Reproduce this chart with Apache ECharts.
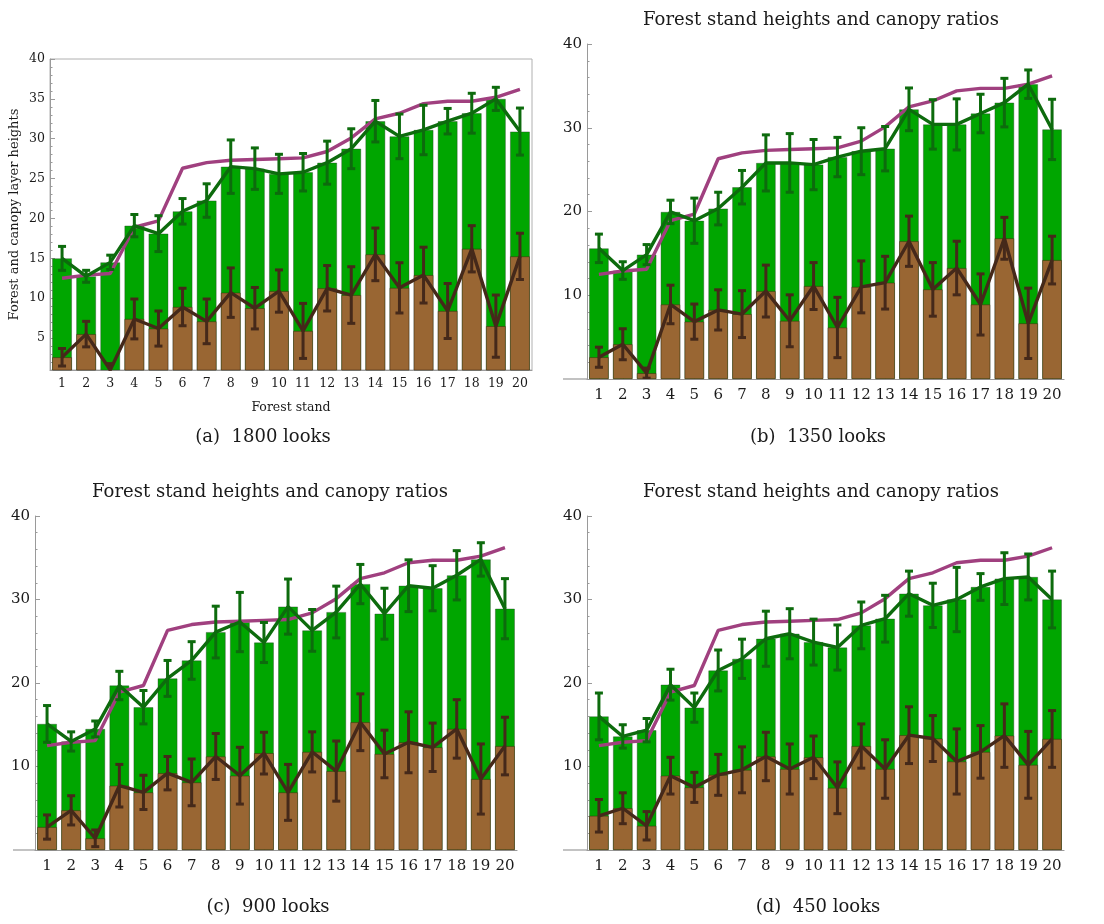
<!DOCTYPE html>
<html><head><meta charset="utf-8">
<script src="https://cdn.jsdelivr.net/npm/echarts@6/dist/echarts.min.js"></script>
<style>html,body{margin:0;padding:0;background:#fff}#c{width:1104px;height:924px}</style>
</head><body><div id="c"></div>
<script>
// ---------- data ----------
const stands = ['1','2','3','4','5','6','7','8','9','10','11','12','13','14','15','16','17','18','19','20'];
const reference = [12.5, 12.9, 13.1, 18.9, 19.7, 26.3, 27.0, 27.3, 27.4, 27.5, 27.6, 28.4, 30.1, 32.5, 33.2, 34.4, 34.7, 34.7, 35.2, 36.2];

const looks1800Height    = [15.0, 12.75, 14.5, 19.1, 18.1, 20.9, 22.25, 26.5, 26.25, 25.6, 25.8, 27.0, 28.75, 32.2, 30.3, 31.1, 32.2, 33.2, 35.0, 30.9];
const looks1800HeightErr = [1.5, 0.75, 0.9, 1.4, 2.25, 1.6, 2.1, 3.35, 2.6, 2.45, 2.35, 2.7, 2.5, 2.6, 2.8, 3.1, 1.6, 2.5, 1.45, 2.95];
const looks1800Base      = [2.6, 5.5, 1.0, 7.4, 6.2, 8.9, 7.1, 10.7, 8.75, 10.9, 5.9, 11.25, 10.4, 15.5, 11.3, 12.9, 8.4, 16.2, 6.5, 15.25];
const looks1800BaseErr   = [1.1, 1.6, 0.8, 2.5, 2.2, 2.35, 2.8, 3.1, 2.6, 2.65, 3.45, 2.85, 3.55, 3.3, 3.15, 3.5, 3.45, 2.9, 3.9, 2.9];

const looks1350Height    = [15.6, 12.95, 14.85, 19.95, 18.9, 20.35, 22.9, 25.8, 25.8, 25.6, 26.5, 27.2, 27.5, 32.2, 30.4, 30.4, 31.7, 33.0, 35.2, 29.8];
const looks1350HeightErr = [1.7, 1.05, 1.2, 1.4, 2.7, 1.95, 2.0, 3.35, 3.5, 3.0, 2.35, 2.8, 2.65, 2.55, 2.95, 3.05, 2.3, 2.9, 1.7, 3.6];
const looks1350Base      = [2.6, 4.15, 0.7, 8.9, 6.85, 8.25, 7.75, 10.5, 6.95, 11.1, 6.15, 11.0, 11.5, 16.45, 10.7, 13.25, 8.9, 16.8, 6.65, 14.2];
const looks1350BaseErr   = [1.2, 1.85, 0.6, 2.3, 2.1, 2.4, 2.8, 3.1, 3.1, 2.8, 3.6, 3.1, 3.15, 3.0, 3.2, 3.2, 3.65, 2.5, 4.2, 2.85];

const looks900Height     = [15.1, 13.0, 14.5, 19.7, 17.1, 20.55, 22.7, 26.1, 27.3, 24.85, 29.15, 26.3, 28.5, 31.85, 28.3, 31.65, 31.35, 32.9, 34.8, 28.9];
const looks900HeightErr  = [2.2, 1.15, 0.95, 1.7, 2.0, 2.15, 2.25, 3.1, 3.55, 2.4, 3.3, 2.5, 3.1, 2.35, 3.05, 3.1, 2.7, 2.95, 2.0, 3.6];
const looks900Base       = [2.75, 4.75, 1.4, 7.7, 6.9, 9.2, 8.1, 11.2, 8.9, 11.6, 6.9, 11.75, 9.45, 15.3, 11.5, 12.9, 12.3, 14.5, 8.5, 12.45];
const looks900BaseErr    = [1.45, 1.75, 1.0, 2.55, 2.05, 2.0, 2.8, 2.75, 3.4, 2.5, 3.35, 2.4, 3.6, 3.4, 2.85, 3.65, 2.9, 3.5, 4.2, 3.45];

const looks450Height     = [16.0, 13.6, 14.35, 19.8, 17.05, 21.5, 22.9, 25.3, 25.9, 24.9, 24.25, 26.9, 27.7, 30.7, 29.3, 30.0, 31.5, 32.5, 32.7, 30.0];
const looks450HeightErr  = [2.8, 1.4, 1.4, 1.85, 1.75, 2.45, 2.35, 3.3, 3.0, 2.75, 2.7, 2.8, 2.8, 2.7, 2.65, 3.85, 1.6, 3.1, 2.75, 3.4];
const looks450Base       = [4.1, 5.0, 2.9, 8.9, 7.5, 9.0, 9.6, 11.2, 9.7, 11.1, 7.45, 12.45, 9.7, 13.75, 13.35, 10.6, 11.75, 13.7, 10.2, 13.3];
const looks450BaseErr    = [1.95, 1.85, 1.7, 2.2, 1.8, 2.45, 2.75, 2.9, 3.0, 2.55, 3.1, 2.65, 3.5, 3.4, 2.75, 3.9, 3.15, 3.8, 4.0, 3.4];

const panelTitle = 'Forest stand heights and canopy ratios';
const captions = ['(a)  1800 looks', '(b)  1350 looks', '(c)  900 looks', '(d)  450 looks'];
const yTicksA = [5, 10, 15, 20, 25, 30, 35, 40];
const yMinorA = [2,3,4,6,7,8,9,11,12,13,14,16,17,18,19,21,22,23,24,26,27,28,29,31,32,33,34,36,37,38,39];

// ---------- styling ----------
const FONT = 'DejaVu Serif';
const GREEN_BAR = '#00a600';
const BROWN_BAR = '#996633';
const GREEN_LINE = '#0d6b0d';
const BROWN_LINE = '#45291a';
const PURPLE = '#a0407f';
const AXIS = '#9a9a9a';
const TEXT = '#1a1a1a';

const panels = [
  {h: looks1800Height, he: looks1800HeightErr, b: looks1800Base, be: looks1800BaseErr,
   grid: {left: 50, top: 59, width: 482, height: 311}, min: 1, small: true,
   title: null, cap: [263, 437], ext: 0},
  {h: looks1350Height, he: looks1350HeightErr, b: looks1350Base, be: looks1350BaseErr,
   grid: {left: 587, top: 44, width: 477, height: 335}, min: 0,
   title: [821, 20], cap: [818, 437], ext: 24},
  {h: looks900Height, he: looks900HeightErr, b: looks900Base, be: looks900BaseErr,
   grid: {left: 35, top: 516, width: 482, height: 334}, min: 0,
   title: [270, 492], cap: [268, 907], ext: 22},
  {h: looks450Height, he: looks450HeightErr, b: looks450Base, be: looks450BaseErr,
   grid: {left: 587, top: 516, width: 477, height: 334}, min: 0,
   title: [821, 492], cap: [818, 907], ext: 24}
];

function errRender(color) {
  return function (params, api) {
    const x = api.value(0);
    const lo = api.coord([x, api.value(1)]);
    const hi = api.coord([x, api.value(2)]);
    const cap = 4;
    const style = {stroke: color, lineWidth: 3};
    return {
      type: 'group',
      children: [
        {type: 'line', shape: {x1: hi[0], y1: hi[1], x2: lo[0], y2: lo[1]}, style: style},
        {type: 'line', shape: {x1: hi[0] - cap, y1: hi[1], x2: hi[0] + cap, y2: hi[1]}, style: style},
        {type: 'line', shape: {x1: lo[0] - cap, y1: lo[1], x2: lo[0] + cap, y2: lo[1]}, style: style}
      ]
    };
  };
}

const grids = [], xAxes = [], yAxes = [], series = [], graphics = [];

panels.forEach(function (p, i) {
  const fs = p.small ? 12.5 : 15;
  grids.push(Object.assign({
    show: !!p.small, borderColor: '#b0b0b0', borderWidth: 1, backgroundColor: 'transparent'
  }, p.grid));
  xAxes.push({
    type: 'category', gridIndex: i, data: stands, boundaryGap: true,
    axisLine: {show: true, lineStyle: {color: AXIS, width: 1.2}},
    axisTick: {show: true, inside: true, alignWithLabel: true, length: 3, lineStyle: {color: AXIS}},
    axisLabel: {fontFamily: FONT, fontSize: fs, color: TEXT, margin: p.small ? 7 : 9, interval: 0},
    splitLine: {show: false},
    name: p.small ? 'Forest stand' : '', nameLocation: 'middle', nameGap: 31,
    nameTextStyle: {fontFamily: FONT, fontSize: 12.5, color: TEXT}
  });
  if (p.small) {
    yAxes.push({
      type: 'value', gridIndex: i, min: p.min, max: 40,
      axisLine: {show: true, lineStyle: {color: AXIS, width: 1}},
      axisTick: {show: true, inside: true, length: 5, lineStyle: {color: AXIS}, customValues: yTicksA},
      axisLabel: {fontFamily: FONT, fontSize: fs, color: TEXT, margin: 5, customValues: yTicksA},
      splitLine: {show: false},
      name: 'Forest and canopy layer heights', nameLocation: 'middle', nameGap: 29, nameRotate: 90,
      nameTextStyle: {fontFamily: FONT, fontSize: 13, color: TEXT}
    });
  } else {
    yAxes.push({
      type: 'value', gridIndex: i, min: 0, max: 40, interval: 10,
      axisLine: {show: true, lineStyle: {color: AXIS, width: 1}},
      axisTick: {show: true, inside: true, length: 5, lineStyle: {color: AXIS}},
      minorTick: {show: true, splitNumber: 5, length: 2.5, lineStyle: {color: AXIS}},
      axisLabel: {fontFamily: FONT, fontSize: fs, color: TEXT, margin: 5, showMinLabel: false},
      splitLine: {show: false}, minorSplitLine: {show: false}
    });
  }
  const base = {xAxisIndex: i, yAxisIndex: i, silent: true, animation: false};
  series.push(Object.assign({}, base, {
    type: 'bar', data: p.h, barWidth: '82%', barGap: '-100%', z: 2,
    itemStyle: {color: GREEN_BAR, borderColor: 'rgba(40,60,40,0.55)', borderWidth: 0.7}
  }));
  series.push(Object.assign({}, base, {
    type: 'bar', data: p.b, barWidth: '82%', barGap: '-100%', z: 2,
    itemStyle: {color: BROWN_BAR, borderColor: 'rgba(50,30,10,0.6)', borderWidth: 0.7}
  }));
  series.push(Object.assign({}, base, {
    type: 'line', data: reference, symbol: 'none', z: 3,
    lineStyle: {color: PURPLE, width: 3.4}
  }));
  series.push(Object.assign({}, base, {
    type: 'line', data: p.h, symbol: 'none', z: 4,
    lineStyle: {color: GREEN_LINE, width: 3.4}
  }));
  series.push(Object.assign({}, base, {
    type: 'custom', z: 5, clip: true, renderItem: errRender(GREEN_LINE),
    data: p.h.map(function (v, k) { return [k, v - p.he[k], v + p.he[k]]; })
  }));
  series.push(Object.assign({}, base, {
    type: 'line', data: p.b, symbol: 'none', z: 6,
    lineStyle: {color: BROWN_LINE, width: 3.4}
  }));
  series.push(Object.assign({}, base, {
    type: 'custom', z: 7, clip: true, renderItem: errRender(BROWN_LINE),
    data: p.b.map(function (v, k) { return [k, v - p.be[k], v + p.be[k]]; })
  }));

  if (p.ext) {
    const yb = p.grid.top + p.grid.height;
    graphics.push({type: 'line', silent: true, z: 0,
      shape: {x1: p.grid.left - p.ext, y1: yb, x2: p.grid.left, y2: yb},
      style: {stroke: AXIS, lineWidth: 1.2}});
  }
  if (p.title) {
    graphics.push({type: 'text', x: p.title[0], y: p.title[1],
      style: {text: panelTitle, font: '18px "' + FONT + '"', fill: TEXT, align: 'center', verticalAlign: 'middle'}});
  }
  graphics.push({type: 'text', x: p.cap[0], y: p.cap[1],
    style: {text: captions[i], font: '18px "' + FONT + '"', fill: TEXT, align: 'center', verticalAlign: 'middle'}});
});

// minor ticks for panel (a)
yAxes.push({
  type: 'value', gridIndex: 0, min: 1, max: 40, position: 'left', offset: 0,
  axisLine: {show: false},
  axisTick: {show: true, inside: true, length: 2.5, lineStyle: {color: AXIS}, customValues: yMinorA},
  axisLabel: {show: false}, splitLine: {show: false}
});

const chart = echarts.init(document.getElementById('c'), null, {renderer: 'canvas'});
chart.setOption({
  animation: false,
  backgroundColor: '#ffffff',
  grid: grids, xAxis: xAxes, yAxis: yAxes, series: series,
  graphic: {elements: graphics}
});
</script>
</body></html>
